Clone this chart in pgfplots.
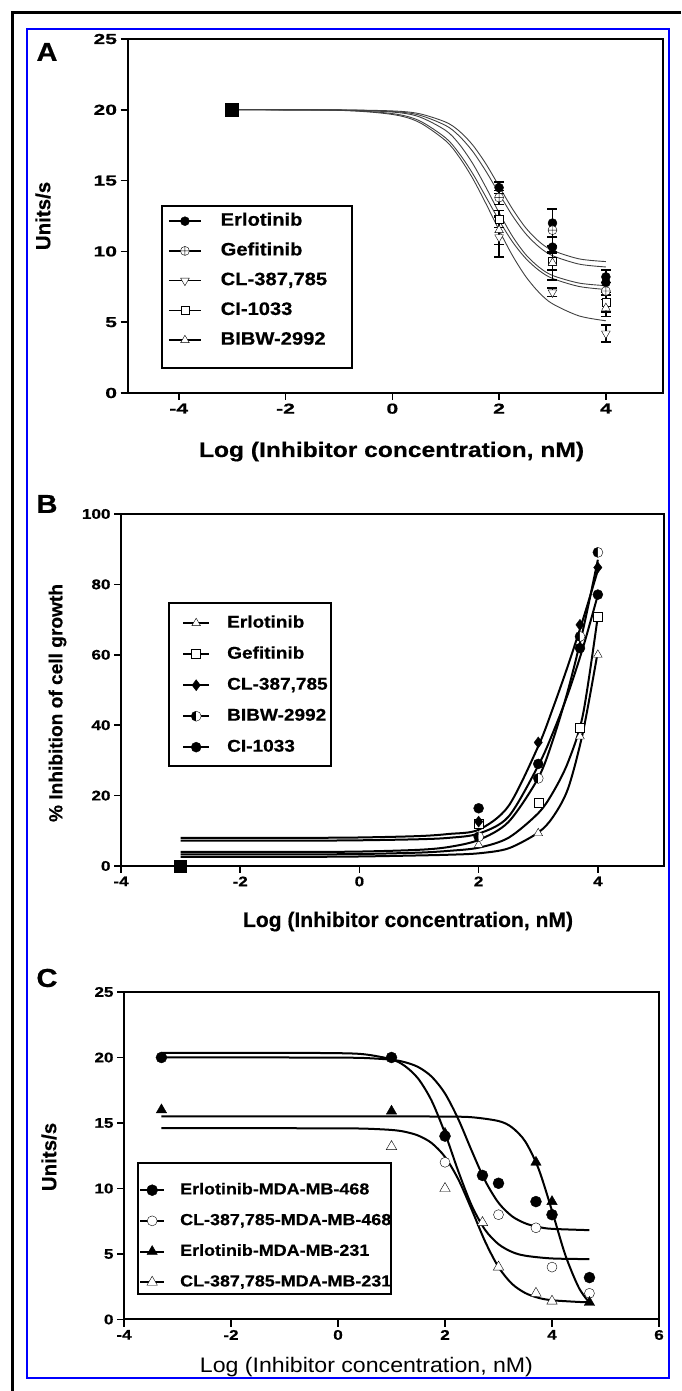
\documentclass[border=0pt]{standalone}
\usepackage{fontspec}
\setmainfont{Liberation Sans}[BoldFeatures={FakeBold=0.5}]
\newfontfamily\stA{Liberation Sans}[FakeStretch=1.45, BoldFeatures={FakeBold=0.6}]
\newfontfamily\stB{Liberation Sans}[FakeStretch=1.22, BoldFeatures={FakeBold=0.6}]
\newfontfamily\stL{Liberation Sans}[FakeStretch=1.12, BoldFeatures={FakeBold=0.5}]
\usepackage{graphicx}
\usepackage{pgfplots}
\pgfplotsset{compat=1.18}
\usetikzlibrary{plotmarks}
\definecolor{frameblue}{RGB}{0,0,255}
\pgfplotsset{
  panel/.style={scale only axis, clip=false,
    axis line style={line width=2pt},
    tick style={line width=1.5pt,black},
    tick align=outside, major tick length=7pt,
    xtick pos=left, ytick pos=left,
    legend cell align=left,
    legend style={draw=none, fill=none, inner sep=0pt, cells={anchor=west}}},
  ebar/.style={error bars/.cd, y dir=both, y explicit,
    error bar style={line width=1.6pt,black},
    error mark options={rotate=90,line width=1.6pt,mark size=5pt,black}},
}
\begin{document}
\begin{tikzpicture}
\useasboundingbox (0pt,0pt) rectangle (681pt,1391pt);
\draw[line width=3pt] (681pt,1378pt) -- (12pt,1378pt) -- (12pt,0pt);
\draw[frameblue, line width=1.8pt] (27pt,1362pt) rectangle (669pt,13pt);

% ---------------- Panel A ----------------
\begin{axis}[panel, at={(127.5pt,998pt)}, anchor=south west,
  width=535.5pt, height=354pt,
  xmin=-4.96, xmax=5.07, ymin=0, ymax=25,
  xtick={-4,-2,0,2,4}, xticklabels={-4,-2,0,2,4},
  ytick={0,5,10,15,20,25}, yticklabels={0,5,10,15,20,25},
  tick label style={font=\stA\bfseries\fontsize{14.5}{14.5}\selectfont},
  legend style={at={(0.0756,0.5099)}, anchor=north west, row sep=12.75pt, column sep=19pt,
    nodes={inner sep=0pt, text height=13pt, text depth=4pt, font=\stL\bfseries\fontsize{18}{18}\selectfont}},
  legend image code/.code={\draw[line width=1.5pt,black] (0pt,0pt) -- (32pt,0pt); \draw[#1] plot coordinates {(16pt,0pt)};}]
\addplot[forget plot, smooth, line width=0.9pt, black!75] coordinates {(-3,20.0)(-1,19.99)(0,19.92)(0.5,19.73)(1,19.13)(1.25,18.51)(1.5,17.54)(1.75,16.20)(2,14.60)(2.25,13.00)(2.5,11.66)(2.75,10.69)(3,10.07)(3.5,9.47)(4,9.28)};
\addplot[forget plot, smooth, line width=0.9pt, black!75] coordinates {(-3,20)(-1,19.99)(0,19.88)(0.5,19.63)(1,18.89)(1.25,18.16)(1.5,17.09)(1.75,15.68)(2,14.08)(2.25,12.52)(2.5,11.24)(2.75,10.31)(3,9.70)(3.5,9.10)(4,8.90)};
\addplot[forget plot, smooth, line width=0.9pt, black!75] coordinates {(-3,20)(-1,19.98)(0,19.84)(0.5,19.51)(1,18.54)(1.25,17.59)(1.5,16.24)(1.75,14.55)(2,12.73)(2.25,11.07)(2.5,9.77)(2.75,8.88)(3,8.30)(3.5,7.76)(4,7.58)};
\addplot[forget plot, smooth, line width=0.9pt, black!75] coordinates {(-3,20)(-1,19.97)(0,19.73)(0.5,19.24)(1,18.01)(1.25,16.93)(1.5,15.53)(1.75,13.87)(2,12.19)(2.25,10.68)(2.5,9.50)(2.75,8.65)(3,8.09)(3.5,7.52)(4,7.31)};
\addplot[forget plot, smooth, line width=0.9pt, black!75] coordinates {(-3,20)(-1,19.96)(0,19.67)(0.5,19.12)(1,17.81)(1.25,16.68)(1.5,15.19)(1.75,13.40)(2,11.50)(2.25,9.71)(2.5,8.22)(2.75,7.09)(3,6.30)(3.5,5.44)(4,5.10)};
\addplot[forget plot, only marks, mark=square*, mark size=6.5pt, black] coordinates {(-3,20)};
\addplot[only marks, mark=*, mark size=4.5pt, black, ebar] coordinates {(2,14.5) +- (0,0.4) (3,12.0) +- (0,1.0) (4,7.8) +- (0,0.9)};
\addlegendentry{Erlotinib}
\addplot[only marks, mark=oplus*, mark size=4.5pt, black, mark options={fill=white}, ebar] coordinates {(2,13.8) +- (0,0.5) (3,11.5) +- (0,1.5) (4,7.2) +- (0,0.6)};
\addlegendentry{Gefitinib}
\addplot[only marks, mark=triangle*, mark size=5pt, black, mark options={fill=white, rotate=180}, ebar] coordinates {(2,11.0) +- (0,1.4) (3,7.1) +- (0,0.3) (4,4.2) +- (0,0.6)};
\addlegendentry{CL-387,785}
\addplot[only marks, mark=square*, mark size=4pt, black, mark options={fill=white}, ebar] coordinates {(2,12.3) +- (0,0.6) (3,9.3) +- (0,0.6) (4,6.4) +- (0,0.7)};
\addlegendentry{CI-1033}
\addplot[only marks, mark=triangle*, mark size=5pt, black, mark options={fill=white}, ebar] coordinates {(2,11.5) +- (0,1.0) (3,9.2) +- (0,1.2) (4,6.0) +- (0,0.6)};
\addlegendentry{BIBW-2992}
\addplot[forget plot, only marks, mark=*, mark size=4.5pt, black] coordinates {(3,10.3)(4,8.2)};
\end{axis}

% ---------------- Panel B ----------------
\begin{axis}[panel, at={(121pt,525pt)}, anchor=south west,
  width=543pt, height=352pt,
  xmin=-4, xmax=5.11, ymin=0, ymax=100,
  xtick={-4,-2,0,2,4}, xticklabels={-4,-2,0,2,4},
  ytick={0,20,40,60,80,100}, yticklabels={0,20,40,60,80,100},
  tick label style={font=\stB\bfseries\fontsize{14}{14}\selectfont},
  legend style={at={(0.1123,0.7131)}, anchor=north west, row sep=15pt, column sep=17pt,
    nodes={inner sep=0pt, text height=12.5pt, text depth=3.5pt, font=\stL\bfseries\fontsize{17}{17}\selectfont}},
  legend image code/.code={\draw[line width=2pt,black] (0pt,0pt) -- (26pt,0pt); \draw[#1] plot coordinates {(13pt,0pt)};}]
\addplot[forget plot, smooth, line width=2pt, black] coordinates {(-3,8.0)(-1,8.0)(0,8.1)(1,8.5)(1.5,9.1)(2,10.3)(2.5,17)(3,34)(3.25,45)(3.5,57)(3.75,70)(4,84)};
\addplot[forget plot, smooth, line width=2pt, black] coordinates {(-3,7.2)(-1,7.2)(0,7.3)(1,7.6)(1.5,8.0)(2,9.2)(2.5,14)(3,28.5)(3.25,38)(3.5,49)(3.75,62)(4,77)};
\addplot[forget plot, smooth, line width=2pt, black] coordinates {(-3,4.0)(-1,4.0)(0,4.1)(1,4.6)(1.5,5.4)(2,7.4)(2.5,12.5)(3,25)(3.25,36)(3.5,50)(3.75,67)(4,87)};
\addplot[forget plot, smooth, line width=2pt, black] coordinates {(-3,3.3)(-1,3.3)(0,3.4)(1,3.8)(1.5,4.3)(2,5.2)(2.5,8.0)(3,15)(3.25,21)(3.5,29.5)(3.75,43)(4,71)};
\addplot[forget plot, smooth, line width=2pt, black] coordinates {(-3,2.6)(-1,2.6)(0,2.7)(1,3.0)(1.5,3.2)(2,3.6)(2.5,5.0)(3,9.5)(3.25,14)(3.5,22)(3.75,38)(4,61)};
\addplot[forget plot, only marks, mark=square*, mark size=6pt, black] coordinates {(-3,0)};
\addplot[only marks, mark=triangle*, mark size=5pt, black, mark options={fill=white}] coordinates {(2,6.0)(3,9.3)(3.7,36.8)(4,60.0)};
\addlegendentry{Erlotinib}
\addplot[only marks, mark=square*, mark size=4.5pt, black, mark options={fill=white}] coordinates {(2,11.9)(3,18.1)(3.7,39.4)(4,70.9)};
\addlegendentry{Gefitinib}
\addplot[only marks, mark=diamond*, mark size=5.5pt, black] coordinates {(2,12.6)(3,35.1)(3.7,68.5)(4,84.8)};
\addlegendentry{CL-387,785}
\addplot[only marks, mark=halfcircle*, mark size=5pt, black, mark options={fill=black, rotate=90}] coordinates {(2,8.3)(3,24.9)(3.7,65.2)(4,89.1)};
\addlegendentry{BIBW-2992}
\addplot[only marks, mark=*, mark size=5pt, black] coordinates {(2,16.4)(3,29.0)(3.7,61.9)(4,77.1)};
\addlegendentry{CI-1033}
\end{axis}

% ---------------- Panel C ----------------
\begin{axis}[panel, at={(124pt,71.5pt)}, anchor=south west,
  width=535pt, height=327.5pt,
  xmin=-4, xmax=6, ymin=0, ymax=25,
  xtick={-4,-2,0,2,4,6}, xticklabels={-4,-2,0,2,4,6},
  ytick={0,5,10,15,20,25}, yticklabels={0,5,10,15,20,25},
  tick label style={font=\stB\bfseries\fontsize{14}{14}\selectfont},
  legend style={at={(0.028,0.4191)}, anchor=north west, row sep=15.17pt, column sep=15pt,
    nodes={inner sep=0pt, text height=12pt, text depth=3.5pt, font=\stL\bfseries\fontsize{16}{16}\selectfont}},
  legend image code/.code={\draw[line width=2pt,black] (0pt,0pt) -- (24pt,0pt); \draw[#1] plot coordinates {(12pt,0pt)};}]
\addplot[forget plot, smooth, line width=2pt, black] coordinates {(-3.3,20.35)(-1,20.35)(0,20.33)(0.5,20.24)(1,19.86)(1.25,19.35)(1.5,18.38)(1.75,16.70)(2,14.22)(2.25,11.30)(2.5,8.69)(2.75,6.84)(3,5.75)(3.25,5.16)(3.5,4.87)(4,4.66)(4.7,4.61)};
\addplot[forget plot, smooth, line width=2pt, black] coordinates {(-3.3,20.0)(-1,20.0)(0,19.99)(0.5,19.96)(1,19.83)(1.25,19.64)(1.5,19.27)(1.75,18.54)(2,17.25)(2.25,15.28)(2.5,12.87)(2.75,10.59)(3,8.91)(3.25,7.89)(3.5,7.34)(3.75,7.06)(4,6.92)(4.7,6.82)};
\addplot[forget plot, smooth, line width=2pt, black] coordinates {(-3.3,15.5)(0,15.5)(1,15.5)(2,15.49)(2.5,15.44)(3,15.15)(3.25,14.67)(3.5,13.59)(3.75,11.49)(4,8.30)(4.25,4.91)(4.5,2.44)(4.7,1.28)};
\addplot[forget plot, smooth, line width=2pt, black] coordinates {(-3.3,14.6)(-1,14.6)(0,14.59)(0.5,14.57)(1,14.47)(1.25,14.33)(1.5,14.04)(1.75,13.47)(2,12.41)(2.25,10.69)(2.5,8.38)(2.75,5.95)(3,4.00)(3.25,2.73)(3.5,2.02)(3.75,1.65)(4,1.47)(4.5,1.34)(4.7,1.32)};
\addplot[only marks, mark=*, mark size=5.5pt, black] coordinates {(-3.3,20)(1,20)(2,14)(2.7,11)(3,10.4)(3.7,9)(4,8)(4.7,3.2)};
\addlegendentry{Erlotinib-MDA-MB-468}
\addplot[only marks, mark=*, mark size=5pt, black, mark options={fill=white}] coordinates {(2,12)(3,8)(3.7,7)(4,4)(4.7,2)};
\addlegendentry{CL-387,785-MDA-MB-468}
\addplot[only marks, mark=triangle*, mark size=6pt, black] coordinates {(-3.3,16)(1,15.9)(2,14.2)(3.7,12)(4,9)(4.7,1.3)};
\addlegendentry{Erlotinib-MDA-MB-231}
\addplot[only marks, mark=triangle*, mark size=6pt, black, mark options={fill=white}] coordinates {(1,13.2)(2,10)(2.7,7.4)(3,4)(3.7,2)(4,1.4)};
\addlegendentry{CL-387,785-MDA-MB-231}
\end{axis}

% legend frames
\draw[line width=1.5pt] (162pt,1185pt) rectangle (352pt,1023pt);
\draw[line width=1.2pt] (169pt,788pt) rectangle (331pt,625pt);
\draw[line width=1.2pt] (138pt,228pt) rectangle (391pt,97pt);

% panel letters
\node[font=\stL\bfseries\fontsize{26}{26}\selectfont] at (47pt,1339pt) {A};
\node[font=\stL\bfseries\fontsize{26}{26}\selectfont] at (47pt,887pt) {B};
\node[font=\stL\bfseries\fontsize{26}{26}\selectfont] at (47pt,413pt) {C};

% axis titles
\node[anchor=base, inner sep=0pt, font=\bfseries\fontsize{21}{21}\selectfont] at (391.5pt,934pt) {\resizebox{385pt}{\height}{Log (Inhibitor concentration, nM)}};
\node[anchor=base, inner sep=0pt, font=\bfseries\fontsize{21}{21}\selectfont] at (408pt,464pt) {\resizebox{330pt}{\height}{Log (Inhibitor concentration, nM)}};
\node[anchor=base, inner sep=0pt, font=\fontsize{21}{21}\selectfont] at (366.5pt,18.3pt) {\resizebox{333pt}{\height}{Log (Inhibitor concentration, nM)}};
\node[rotate=90, inner sep=0pt, font=\bfseries\fontsize{20.5}{20.5}\selectfont] at (43pt,1175pt) {Units/s};
\node[rotate=90, inner sep=0pt, font=\bfseries\fontsize{19}{19}\selectfont] at (57.5pt,688pt) {\resizebox{238pt}{\height}{\% Inhibition of cell growth}};
\node[rotate=90, inner sep=0pt, font=\bfseries\fontsize{20.5}{20.5}\selectfont] at (49pt,234pt) {Units/s};
\end{tikzpicture}
\end{document}
